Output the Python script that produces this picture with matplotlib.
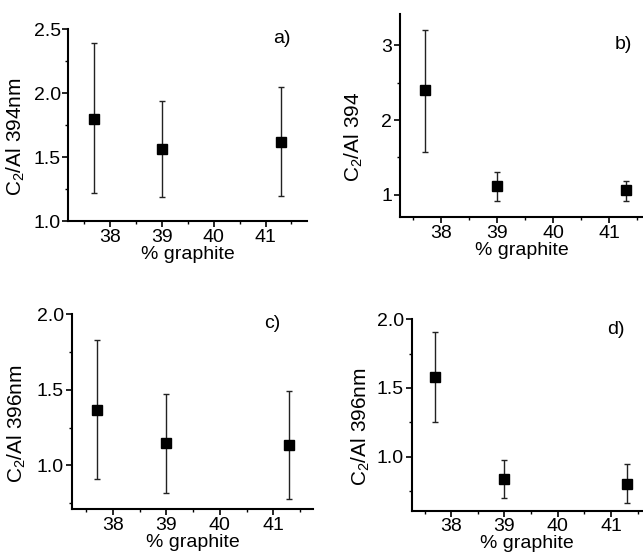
import matplotlib
matplotlib.use("Agg")
import matplotlib.pyplot as plt
from matplotlib.ticker import MultipleLocator, FormatStrFormatter

plt.rcParams['font.family'] = ['Liberation Sans', 'DejaVu Sans']
plt.rcParams['mathtext.fontset'] = 'custom'
plt.rcParams['mathtext.rm'] = 'Liberation Sans'
plt.rcParams['mathtext.default'] = 'regular'

graphite = [37.7, 39.0, 41.3]

a_val = [1.80, 1.56, 1.62]
a_lo = [1.22, 1.185, 1.195]
a_hi = [2.39, 1.94, 2.05]

b_val = [2.40, 1.12, 1.06]
b_lo = [1.57, 0.92, 0.92]
b_hi = [3.21, 1.31, 1.19]

c_val = [1.37, 1.15, 1.135]
c_lo = [0.91, 0.82, 0.78]
c_hi = [1.83, 1.47, 1.49]

d_val = [1.58, 0.837, 0.80]
d_lo = [1.255, 0.70, 0.665]
d_hi = [1.905, 0.975, 0.945]

xticks = [38, 39, 40, 41]

fig = plt.figure(figsize=(6.43, 5.55), dpi=100)

panels = [
    dict(rect=[0.1062, 0.6018, 0.3713, 0.3459], val=a_val, lo=a_lo, hi=a_hi,
         xlim=(37.2, 41.8), ylim=(1.0, 2.5), ymaj=0.5, ymin=0.25, fmt='%.1f',
         ylabel='C$_2$/Al 394nm', tag='a)', lab=(-0.173, 0.44), tagpos=(0.895, 0.95)),
    dict(rect=[0.622, 0.6085, 0.378, 0.3663], val=b_val, lo=b_lo, hi=b_hi,
         xlim=(37.26, 41.6), ylim=(0.70, 3.42), ymaj=1.0, ymin=0.5, fmt='%d',
         ylabel='C$_2$/Al 394', tag='b)', lab=(-0.144, 0.395), tagpos=(0.92, 0.848)),
    dict(rect=[0.1115, 0.0823, 0.3758, 0.3514], val=c_val, lo=c_lo, hi=c_hi,
         xlim=(37.23, 41.75), ylim=(0.71, 2.0), ymaj=0.5, ymin=0.25, fmt='%.1f',
         ylabel='C$_2$/Al 396nm', tag='c)', lab=(-0.181, 0.44), tagpos=(0.831, 0.955)),
    dict(rect=[0.6403, 0.0798, 0.3597, 0.3449], val=d_val, lo=d_lo, hi=d_hi,
         xlim=(37.26, 41.6), ylim=(0.607, 2.0), ymaj=0.5, ymin=0.25, fmt='%.1f',
         ylabel='C$_2$/Al 396nm', tag='d)', lab=(-0.172, 0.437), tagpos=(0.883, 0.945)),
]

for p in panels:
    ax = fig.add_axes(p['rect'])
    yerr = [[v - l for v, l in zip(p['val'], p['lo'])],
            [h - v for v, h in zip(p['val'], p['hi'])]]
    ax.errorbar(graphite, p['val'], yerr=yerr, fmt='s', color='black',
                ecolor='#222222', elinewidth=1.0, capsize=2.5, capthick=1.0,
                markersize=6.5, clip_on=False)
    ax.set_xlim(*p['xlim'])
    ax.set_ylim(*p['ylim'])
    ax.set_xticks(xticks)
    ax.xaxis.set_minor_locator(MultipleLocator(0.5))
    ax.yaxis.set_major_locator(MultipleLocator(p['ymaj']))
    ax.yaxis.set_minor_locator(MultipleLocator(p['ymin']))
    ax.yaxis.set_major_formatter(FormatStrFormatter(p['fmt']))
    for s in ['top', 'right']:
        ax.spines[s].set_visible(False)
    for s in ['left', 'bottom']:
        ax.spines[s].set_linewidth(1.5)
    ax.tick_params(which='major', direction='out', length=4, width=1.2,
                   labelsize=14, pad=1.5)
    ax.tick_params(which='minor', direction='out', length=2.5, width=1.0)
    ax.set_xlabel('% graphite', fontsize=14, labelpad=0)
    ax.set_ylabel(p['ylabel'], fontsize=15)
    ax.yaxis.set_label_coords(*p['lab'])
    ax.text(p['tagpos'][0], p['tagpos'][1], p['tag'], transform=ax.transAxes,
            fontsize=14, ha='center', va='center')

fig.savefig('out.png', dpi=100)
